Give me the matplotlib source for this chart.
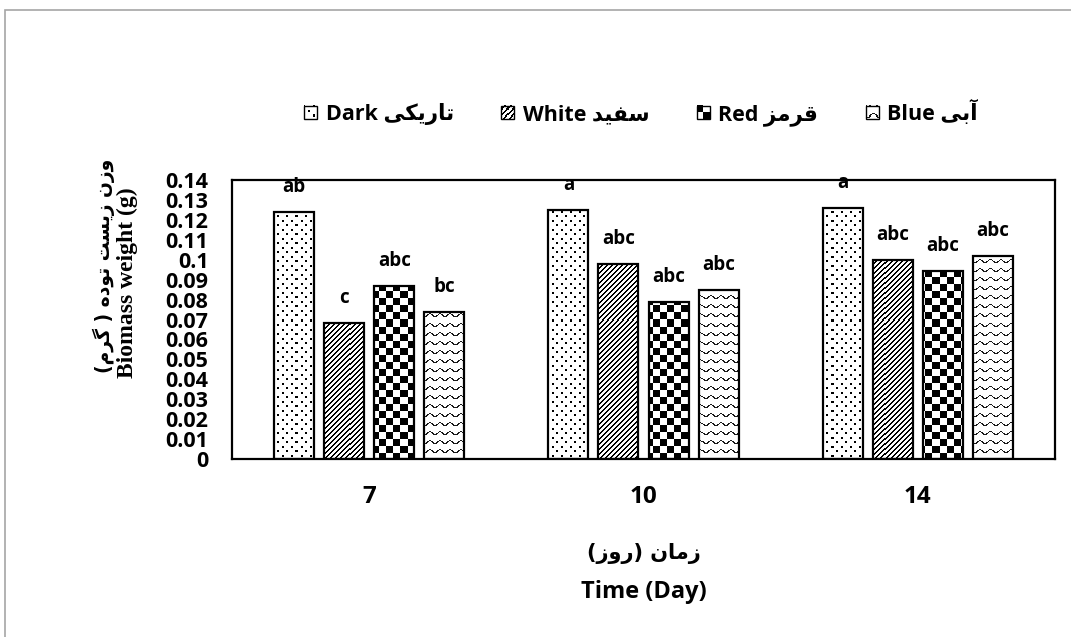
import numpy as np
import matplotlib
matplotlib.use("Agg")
import matplotlib.pyplot as plt
from matplotlib.patches import Rectangle, Patch
from matplotlib.legend_handler import HandlerBase
from matplotlib.image import BboxImage
from matplotlib.transforms import Bbox, TransformedBbox

# ---------------- data ----------------
days = ["7", "10", "14"]
series_en = ["Dark", "White", "Red", "Blue"]
series_fa = ["تاریکی", "سفید", "قرمز", "آبی"]
dark = [0.124, 0.125, 0.126]
white = [0.068, 0.098, 0.100]
red = [0.087, 0.079, 0.0945]
blue = [0.074, 0.085, 0.102]
letters_dark = ["ab", "a", "a"]
letters_white = ["c", "abc", "abc"]
letters_red = ["abc", "abc", "abc"]
letters_blue = ["bc", "abc", "abc"]
yticks = [0, 0.01, 0.02, 0.03, 0.04, 0.05, 0.06, 0.07, 0.08, 0.09, 0.1,
          0.11, 0.12, 0.13, 0.14]
ytick_labels = ["0", "0.01", "0.02", "0.03", "0.04", "0.05", "0.06", "0.07",
                "0.08", "0.09", "0.1", "0.11", "0.12", "0.13", "0.14"]
ylabel_en = "Biomass weight (g)"
ylabel_fa = "وزن زیست توده ( گرم)"
xlabel_en = "Time (Day)"
xlabel_fa = "زمان (روز)"

# ------------- simple Persian shaping (presentation forms, visual order) -------------
FORMS = {
    'ا': ('\uFE8D', '\uFE8E', None, None),
    'آ': ('\uFE81', '\uFE82', None, None),
    'ب': ('\uFE8F', '\uFE90', '\uFE91', '\uFE92'),
    'ت': ('\uFE95', '\uFE96', '\uFE97', '\uFE98'),
    'د': ('\uFEA9', '\uFEAA', None, None),
    'ر': ('\uFEAD', '\uFEAE', None, None),
    'ز': ('\uFEAF', '\uFEB0', None, None),
    'س': ('\uFEB1', '\uFEB2', '\uFEB3', '\uFEB4'),
    'ف': ('\uFED1', '\uFED2', '\uFED3', '\uFED4'),
    'ق': ('\uFED5', '\uFED6', '\uFED7', '\uFED8'),
    'م': ('\uFEE1', '\uFEE2', '\uFEE3', '\uFEE4'),
    'ن': ('\uFEE5', '\uFEE6', '\uFEE7', '\uFEE8'),
    'ه': ('\uFEE9', '\uFEEA', '\uFEEB', '\uFEEC'),
    'و': ('\uFEED', '\uFEEE', None, None),
    'ک': ('\uFB8E', '\uFB8F', '\uFB90', '\uFB91'),
    'گ': ('\uFB92', '\uFB93', '\uFB94', '\uFB95'),
    'ی': ('\uFBFC', '\uFBFD', '\uFBFE', '\uFBFF'),
}


def shape(text):
    out = []
    for i, ch in enumerate(text):
        if ch not in FORMS:
            out.append(ch)
            continue
        iso, fin, ini, med = FORMS[ch]
        prev = text[i - 1] if i > 0 else ''
        nxt = text[i + 1] if i + 1 < len(text) else ''
        jp = prev in FORMS and FORMS[prev][2] is not None
        jn = nxt in FORMS and ini is not None
        if jp and jn:
            out.append(med)
        elif jp:
            out.append(fin)
        elif jn:
            out.append(ini)
        else:
            out.append(iso)
    mirror = {'(': ')', ')': '('}
    return ''.join(mirror.get(c, c) for c in reversed(out))


FAM = ['Open Sans', 'DejaVu Sans']
plt.rcParams['font.family'] = FAM
plt.rcParams['font.weight'] = 'bold'

W, H, DPI = 1071, 637, 100
fig = plt.figure(figsize=(W / DPI, H / DPI), dpi=DPI)
L, R, T, B = 232, 1055, 180, 459
ax = fig.add_axes([L / W, 1 - B / H, (R - L) / W, (B - T) / H])

# ------------- textures -------------
axw, axh = R - L, B - T
rr, cc = np.mgrid[0:axh, 0:axw]


def rgb(mask_black, gray=0):
    img = np.ones(mask_black.shape + (3,))
    img[mask_black] = gray
    return img


tex_dots = rgb((((rr % 9) < 2) & ((cc % 9) < 2)) |
               ((((rr + 4) % 9) < 2) & (((cc + 4) % 9) < 2)))
tex_diag = rgb(((cc + rr) % 5) < 2)
tex_check = rgb(((rr // 7 + cc // 7) % 2) == 0)
wave = (rr - 1.6 * np.sin(2 * np.pi * cc / 10.0)) % 9
tex_wave = rgb(wave < 1.3, gray=0.1)
textures = [tex_dots, tex_diag, tex_check, tex_wave]

values = [dark, white, red, blue]
letters = [letters_dark, letters_white, letters_red, letters_blue]

x = np.arange(len(days))
step = 0.1825
bw = 0.146
ax.set_xlim(-0.5, 2.5)
ax.set_ylim(0, 0.14)

for i, (vals, tex, lets) in enumerate(zip(values, textures, letters)):
    pos = x + (i - 1.5) * step
    bars = ax.bar(pos, vals, width=bw, color='white', edgecolor='none', zorder=2)
    for b in bars:
        im = ax.imshow(tex, extent=(-0.5, 2.5, 0, 0.14), aspect='auto',
                       interpolation='nearest', origin='upper', zorder=2.5)
        im.set_clip_path(b)
    ax.bar(pos, vals, width=bw, fill=False, edgecolor='black', linewidth=1.6,
           zorder=3)
    for px, v, s in zip(pos, vals, lets):
        ax.annotate(s, (px, v), xytext=(0, 25), textcoords='offset pixels',
                    ha='center', va='center', fontsize=13.5, fontweight='bold',
                    annotation_clip=False, zorder=4)

ax.set_xlim(-0.5, 2.5)
ax.set_ylim(0, 0.14)
ax.set_xticks(x)
ax.set_xticklabels(days, fontsize=17.5, fontweight='bold')
ax.set_yticks(yticks)
ax.set_yticklabels(ytick_labels, fontsize=15.5, fontweight='bold')
ax.tick_params(axis='both', length=0)
ax.tick_params(axis='y', pad=17)
ax.tick_params(axis='x', pad=19)
for sp in ax.spines.values():
    sp.set_linewidth(1.6)
    sp.set_color('black')
    sp.set_zorder(5)

# axis titles
fig.text(127 / W, 1 - 283 / H, ylabel_en, rotation=90, ha='center', va='center',
         fontsize=17, fontweight='bold', family='Liberation Serif')
fig.text(104 / W, 1 - 266 / H, shape(ylabel_fa), rotation=90, ha='center',
         va='center', fontsize=13.5, fontweight='bold', family=['DejaVu Sans'])
fig.text(644 / W, 1 - 553 / H, shape(xlabel_fa), ha='center', va='center',
         fontsize=15, fontweight='bold', family=['DejaVu Sans'])
fig.text(644 / W, 1 - 592 / H, xlabel_en, ha='center', va='center',
         fontsize=17, fontweight='bold')


# ------------- legend -------------
class TextureHandler(HandlerBase):
    def __init__(self, tex):
        super().__init__()
        self.tex = tex

    def create_artists(self, legend, orig_handle, xdescent, ydescent, width,
                       height, fontsize, trans):
        x0, y0 = -xdescent, -ydescent
        bb = TransformedBbox(Bbox.from_bounds(x0, y0, width, height), trans)
        img = BboxImage(bb, interpolation='nearest', origin='upper')
        img.set_data(self.tex[1:13, 1:13])
        rect = Rectangle((x0, y0), width, height, fill=False,
                         edgecolor='black', linewidth=1.0, transform=trans)
        return [img, rect]


handles = [Patch() for _ in series_en]
hmap = {h: TextureHandler(t) for h, t in zip(handles, textures)}
labels = [en + " " + shape(fa) for en, fa in zip(series_en, series_fa)]
fig.legend(handles, labels, handler_map=hmap, loc='center',
           bbox_to_anchor=(641 / W, 1 - 113 / H), ncol=4, frameon=False,
           prop={'size': 15.5, 'weight': 'bold'}, handlelength=0.6,
           handleheight=0.6, handletextpad=0.4, columnspacing=2.2)

# outer chart border
fig.patches.append(Rectangle((5 / W, -0.1), 2, 1.1 - 10 / H,
                             transform=fig.transFigure, fill=False,
                             edgecolor='#a6a6a6', linewidth=1.2))

fig.savefig('out.png', dpi=DPI)
